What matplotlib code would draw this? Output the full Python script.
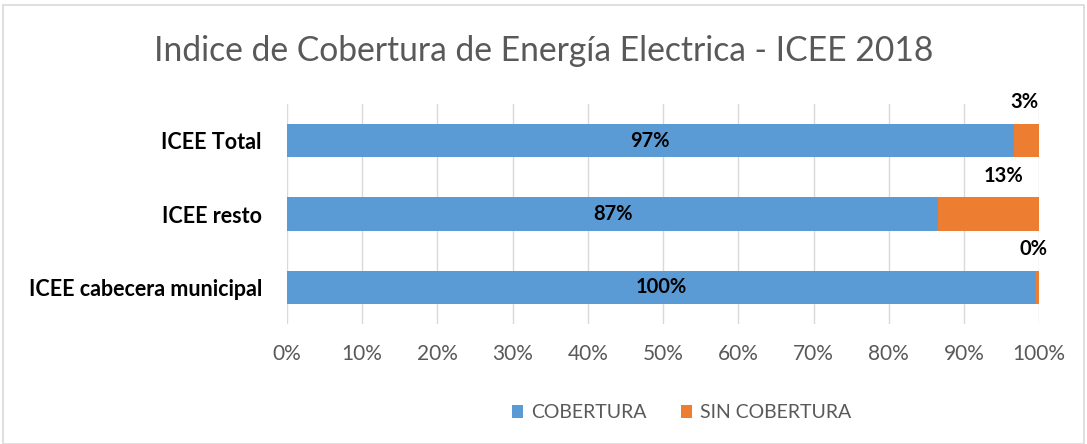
import matplotlib.pyplot as plt
from matplotlib.patches import Rectangle

BLUE = "#5b9bd5"
ORANGE = "#ed7d31"
GRAY = "#595959"
GRID = "#d9d9d9"

categories = ["ICEE cabecera municipal", "ICEE resto", "ICEE Total"]
cobertura = [99.6, 86.6, 96.6]
sin_cobertura = [0.4, 13.4, 3.4]
cob_labels = ["100%", "87%", "97%"]
sin_labels = ["0%", "13%", "3%"]
# where the orange labels sit (x in %, above each bar)
sin_label_x = [99.2, 95.3, 98.1]

plt.rcParams["font.family"] = ["Lato", "DejaVu Sans"]

fig = plt.figure(figsize=(10.87, 4.44), dpi=100)
ax = fig.add_axes([0.264, 0.270, 0.692, 0.496])

y = range(len(categories))
ax.barh(y, cobertura, height=0.45, color=BLUE, label="COBERTURA")
ax.barh(y, sin_cobertura, left=cobertura, height=0.45, color=ORANGE, label="SIN COBERTURA")

for i in y:
    ax.text(cobertura[i] / 2, i, cob_labels[i], ha="center", va="center",
            fontsize=14.5, weight="bold", color="black")
    ax.text(sin_label_x[i], i + 0.52, sin_labels[i], ha="center", va="center",
            fontsize=14.5, weight="bold", color="black")

ax.set_xlim(0, 100)
ax.set_ylim(-0.5, 2.5)
ax.set_xticks(range(0, 101, 10))
ax.set_xticklabels([f"{v}%" for v in range(0, 101, 10)])
ax.set_yticks(list(y))
ax.set_yticklabels(categories, fontsize=15.5, weight="bold", color="black")
ax.tick_params(axis="x", length=0, pad=14, labelsize=15, labelcolor=GRAY)
ax.tick_params(axis="y", length=0, pad=18)
ax.grid(axis="x", color=GRID, lw=1)
ax.set_axisbelow(True)
for side in ax.spines.values():
    side.set_visible(False)

fig.text(0.5, 0.885, "Indice de Cobertura de Energía Electrica - ICEE 2018",
         ha="center", va="center", fontsize=24.2, color=GRAY)

fig.legend(loc="center", bbox_to_anchor=(0.627, 0.07), ncol=2, frameon=False,
           prop={"size": 14}, handlelength=0.55, handleheight=0.6,
           columnspacing=1.8, handletextpad=0.4, labelcolor=GRAY)

fig.patches.append(Rectangle((0.003, 0.0), 0.994, 0.988, transform=fig.transFigure,
                             fill=False, edgecolor=GRID, lw=1.2))

fig.savefig("out.png", dpi=100)
